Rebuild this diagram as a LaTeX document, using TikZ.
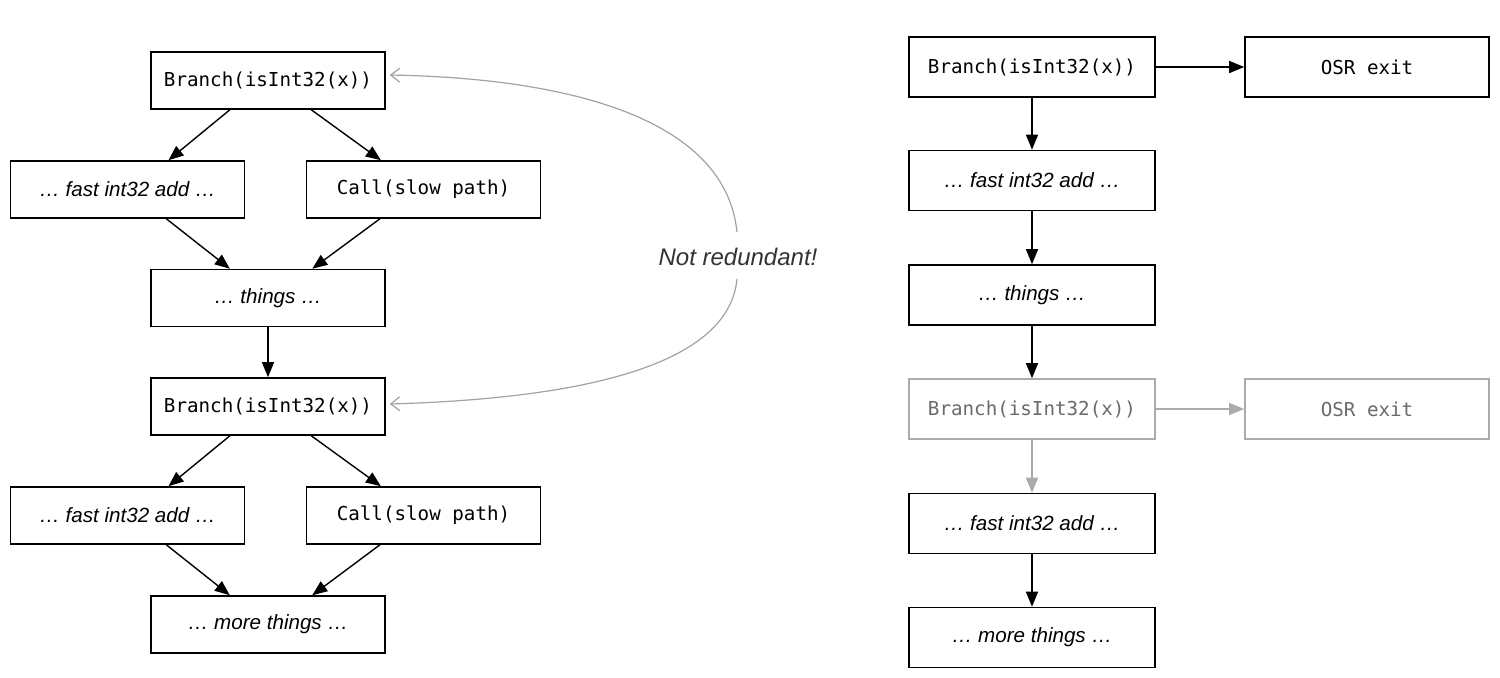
\documentclass[tikz,border=0pt]{standalone}
\usepackage{fontspec}
\setmainfont{Liberation Sans}
\setmonofont{DejaVu Sans Mono}
\usetikzlibrary{arrows.meta,calc}
\definecolor{lightg}{HTML}{ABABAB}
\definecolor{textg}{HTML}{6A6A6A}
\definecolor{curveg}{HTML}{A2A2A2}
\begin{document}
\begin{tikzpicture}[x=0.5pt,y=-0.5pt,
  lbox/.style={draw, line width=0.8pt, minimum width=117pt, minimum height=28.5pt, inner sep=0pt},
  rbox/.style={draw, line width=0.8pt, minimum width=123pt, minimum height=30pt, inner sep=0pt},
  code/.style={font=\ttfamily\fontsize{9.6}{11}\selectfont},
  ital/.style={font=\itshape\fontsize{10.3}{12}\selectfont},
  faded/.style={draw=lightg, text=textg},
  arr/.style={line width=0.7pt, -{Triangle[length=7.5pt,width=6pt]}},
  garr/.style={arr, draw=lightg, -{Triangle[length=7.5pt,width=6pt,fill=lightg]}},
  carr/.style={line width=0.6pt, draw=curveg, -{Straight Barb[length=4.5pt,width=7pt,line width=0.6pt]}},
  lab/.style={font=\itshape\fontsize{12}{14}\selectfont, text=black!80}
]
\useasboundingbox (0,0) rectangle (1500,677);

% left column
\node[lbox,code] (b1) at (268,80.5) {Branch(isInt32(x))};
\node[lbox,ital] (f1) at (127.5,189.5) {… fast int32 add …};
\node[lbox,code] (c1) at (423.5,189.5) {Call(slow path)};
\node[lbox,ital] (t1) at (268,298) {… things …};
\node[lbox,code] (b2) at (268,406.5) {Branch(isInt32(x))};
\node[lbox,ital] (f2) at (127.5,515.5) {… fast int32 add …};
\node[lbox,code] (c2) at (423.5,515.5) {Call(slow path)};
\node[lbox,ital] (m1) at (268,624.5) {… more things …};

\draw[arr] ($(b1.south west)!0.338!(b1.south east)$) -- ($(f1.north west)!0.674!(f1.north east)$);
\draw[arr] ($(b1.south west)!0.684!(b1.south east)$) -- ($(c1.north west)!0.319!(c1.north east)$);
\draw[arr] ($(f1.south west)!0.665!(f1.south east)$) -- ($(t1.north west)!0.338!(t1.north east)$);
\draw[arr] ($(c1.south west)!0.315!(c1.south east)$) -- ($(t1.north west)!0.688!(t1.north east)$);
\draw[arr] (t1) -- (b2);
\draw[arr] ($(b2.south west)!0.338!(b2.south east)$) -- ($(f2.north west)!0.674!(f2.north east)$);
\draw[arr] ($(b2.south west)!0.684!(b2.south east)$) -- ($(c2.north west)!0.319!(c2.north east)$);
\draw[arr] ($(f2.south west)!0.665!(f2.south east)$) -- ($(m1.north west)!0.338!(m1.north east)$);
\draw[arr] ($(c2.south west)!0.315!(c2.south east)$) -- ($(m1.north west)!0.688!(m1.north east)$);

% curved annotation
\node[lab] (nr) at (738,257) {Not redundant!};
\coordinate (ct) at (737,232);
\coordinate (cb) at (737,279);
\draw[carr] (ct) .. controls (725,115) and (560,78) .. ($(b1.east)+(4,-5.5)$);
\draw[carr] (cb) .. controls (728,372) and (560,399) .. ($(b2.east)+(4,-2.5)$);

% right column
\node[rbox,code] (r1) at (1032,67) {Branch(isInt32(x))};
\node[rbox,code,minimum width=122pt] (o1) at (1367,67) {OSR exit};
\node[rbox,ital] (r2) at (1032,180.5) {… fast int32 add …};
\node[rbox,ital] (r3) at (1032,295) {… things …};
\node[rbox,code,faded] (r4) at (1032,409) {Branch(isInt32(x))};
\node[rbox,code,faded,minimum width=122pt] (o2) at (1367,409) {OSR exit};
\node[rbox,ital] (r5) at (1032,523.5) {… fast int32 add …};
\node[rbox,ital] (r6) at (1032,637.5) {… more things …};

\draw[arr] (r1) -- (o1);
\draw[arr] (r1) -- (r2);
\draw[arr] (r2) -- (r3);
\draw[arr] (r3) -- (r4);
\draw[garr] (r4) -- (o2);
\draw[garr] (r4) -- (r5);
\draw[arr] (r5) -- (r6);
\end{tikzpicture}
\end{document}
